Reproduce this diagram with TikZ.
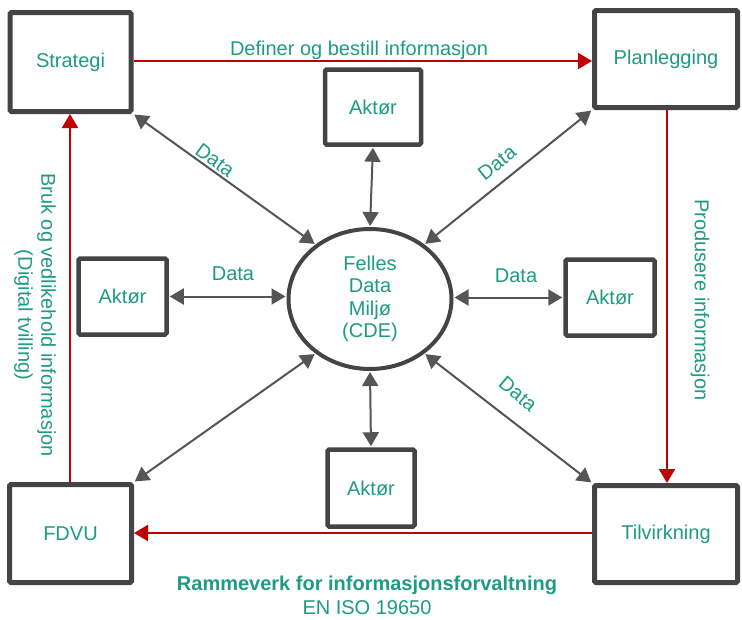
\documentclass[tikz,border=0pt]{standalone}
\usepackage{fontspec}
\setmainfont{Liberation Sans}
\usetikzlibrary{arrows.meta,shapes.geometric,calc}
\definecolor{teal}{RGB}{30,155,130}
\definecolor{boxgray}{RGB}{68,68,68}
\definecolor{arrgray}{RGB}{85,85,85}
\definecolor{redline}{RGB}{192,0,0}
\tikzset{
  bigbox/.style={draw=boxgray,line width=5pt,rounded corners=1.5pt,fill=white,text=teal,inner sep=0pt,font=\fontsize{20}{23}\selectfont},
  actbox/.style={draw=boxgray,line width=4.5pt,rounded corners=1.5pt,fill=white,text=teal,inner sep=0pt,font=\fontsize{20}{23}\selectfont},
  datarrow/.style={draw=arrgray,line width=2pt,{Triangle[length=14pt,width=16pt]}-{Triangle[length=14pt,width=16pt]},shorten <=1pt,shorten >=1pt},
  redarrow/.style={draw=redline,line width=2pt,-{Triangle[length=14pt,width=16pt]}},
  lbl/.style={text=teal,font=\fontsize{20}{23}\selectfont,inner sep=0pt}
}
\begin{document}
\begin{tikzpicture}[x=1pt,y=-1pt]
\useasboundingbox (0,0) rectangle (742,619);
% main boxes
\node[bigbox,minimum width=121pt,minimum height=99pt] (strat) at (70.5,62) {Strategi};
\node[bigbox,minimum width=143pt,minimum height=97pt] (plan) at (666,59) {Planlegging};
\node[bigbox,minimum width=122pt,minimum height=98pt] (fdvu) at (70.5,533.5) {FDVU};
\node[bigbox,minimum width=143pt,minimum height=97pt] (tilv) at (666,534) {Tilvirkning};
% actor boxes
\node[actbox,minimum width=96pt,minimum height=75pt] (akt) at (373,107) {Aktør};
\node[actbox,minimum width=88pt,minimum height=76pt] (akl) at (122.5,296.5) {Aktør};
\node[actbox,minimum width=89pt,minimum height=76pt] (akr) at (610,297.5) {Aktør};
\node[actbox,minimum width=87pt,minimum height=77pt] (akb) at (371,488) {Aktør};
% ellipse
\node[ellipse,draw=boxgray,line width=4pt,fill=white,minimum width=163pt,minimum height=140pt,inner sep=0pt,align=center,text=teal,font=\fontsize{20}{22.5}\selectfont] (cde) at (370,299) {Felles\\Data\\Miljø\\(CDE)};
% red flow arrows
\draw[redarrow] (strat.east |- 0,61) -- (plan.west |- 0,61);
\draw[redarrow] (plan.south -| 667,0) -- (tilv.north -| 667,0);
\draw[redarrow] (tilv.west |- 0,533) -- (fdvu.east |- 0,533);
\draw[redarrow] (fdvu.north -| 70,0) -- (strat.south -| 70,0);
% data arrows
\draw[datarrow] (strat.south east) -- (cde.135);
\draw[datarrow] (plan.south west) -- (cde.45);
\draw[datarrow] (fdvu.north east) -- (cde.225);
\draw[datarrow] (tilv.north west) -- (cde.-45);
\draw[datarrow] (akt.south) -- (cde.north);
\draw[datarrow] (cde.south) -- (akb.north);
\draw[datarrow] (akl.east) -- (akl.east -| cde.west);
\draw[datarrow] (cde.east |- akr.west) -- (akr.west);
% labels
\node[lbl] (l1) at (359,50) {Definer og bestill informasjon};
\node[lbl,rotate=-36] (d1) at (215,160) {Data};
\node[lbl,rotate=39] (d2) at (497,163) {Data};
\node[lbl] (d3) at (233,274) {Data};
\node[lbl] (d4) at (516,276) {Data};
\node[lbl,rotate=-40] (d5) at (518,394) {Data};
\node[lbl,rotate=-90,align=center] (l2) at (35,315) {Bruk og vedlikehold informasjon\\(Digital tvilling)};
\node[lbl,rotate=-90] (l3) at (700,300) {Produsere informasjon};
\node[lbl,font=\bfseries\fontsize{20}{23}\selectfont] (t1) at (367,585) {Rammeverk for informasjonsforvaltning};
\node[lbl] (t2) at (367,608) {EN ISO 19650};
\end{tikzpicture}
\end{document}
